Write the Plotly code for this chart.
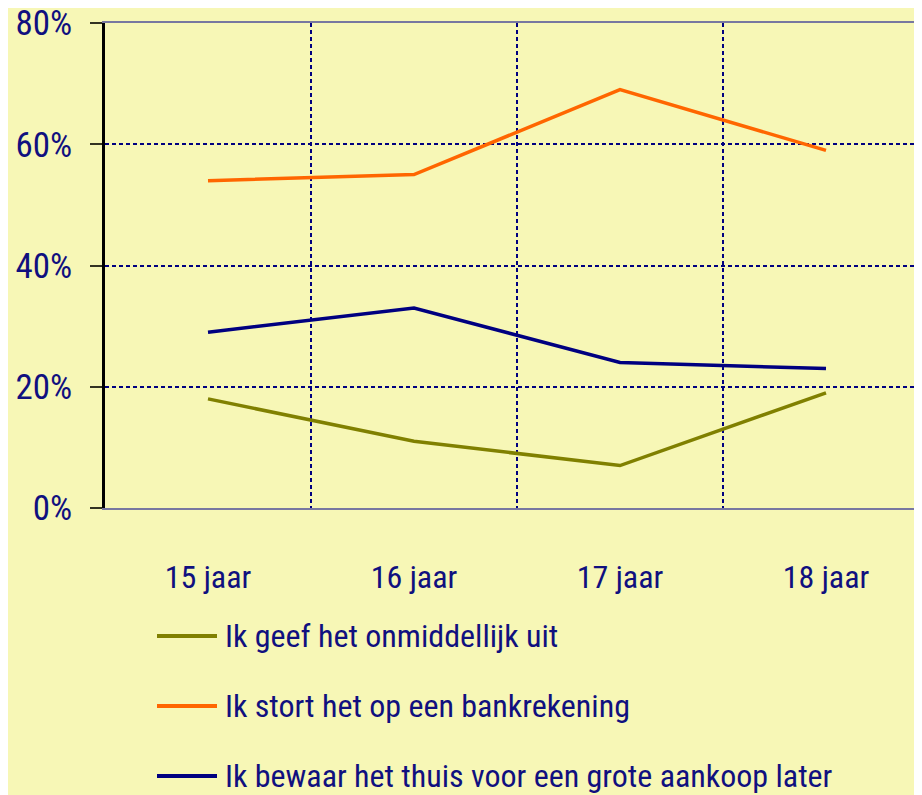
import plotly.graph_objects as go

categories = ["15 jaar", "16 jaar", "17 jaar", "18 jaar"]
series_names = [
    "Ik geef het onmiddellijk uit",
    "Ik stort het op een bankrekening",
    "Ik bewaar het thuis voor een grote aankoop later",
]
geef_uit = [18, 11, 7, 19]
bankrekening = [54, 55, 69, 59]
thuis = [29, 33, 24, 23]
y_ticks = [0, 20, 40, 60, 80]
y_ticktext = ["0%", "20%", "40%", "60%", "80%"]

colors = ["#808000", "#FF6600", "#000080"]
values = [geef_uit, bankrekening, thuis]

BG = "#F7F7B6"
TXT = "#10107F"
FONT = "Roboto Condensed, DejaVu Sans"
FS = 32
FW = 400

def narrow(s):
    return '<span style="font-stretch:condensed">' + s + '</span>'

xs = list(range(len(categories)))
fig = go.Figure()
for name, vals, col in zip(series_names, values, colors):
    fig.add_trace(go.Scatter(x=xs, y=vals, mode="lines", name=name,
                             line=dict(color=col, width=3.5), showlegend=False))

# page has an 8px body margin; positions below are page pixels
OFF = 8
W, H = 922 - OFF, 795 - OFF
L, R, T = 105 - OFF, 0, 23 - OFF
B = H - (508 - OFF)
pw = W - L - R
ph = H - T - B
def px(x):
    return (x - OFF - L) / pw
def py(y):
    return (H - B - (y - OFF)) / ph

legend_y = [636, 706, 776]
for name, col, ly in zip(series_names, colors, legend_y):
    fig.add_shape(type="line", xref="paper", yref="paper",
                  x0=px(157), x1=px(217), y0=py(ly), y1=py(ly),
                  line=dict(color=col, width=4))
    fig.add_annotation(xref="paper", yref="paper", x=px(223), y=py(ly),
                       text=narrow(name), showarrow=False, xanchor="left", yanchor="middle",
                       font=dict(family=FONT, size=FS, color=TXT, weight=FW))

fig.update_layout(
    template="none",
    width=W, height=H,
    margin=dict(l=L, r=R, t=T, b=B, pad=0),
    paper_bgcolor=BG, plot_bgcolor=BG,
    font=dict(family=FONT, size=FS, color=TXT, weight=FW),
    showlegend=False,
)
fig.update_xaxes(
    automargin=False,
    range=[-0.5, -0.5 + pw / 206.0],
    tickvals=xs, ticktext=[narrow(c) for c in categories],
    tickfont=dict(family=FONT, size=FS, color=TXT, weight=FW),
    showgrid=False, zeroline=False,
    showline=True, linecolor="#7878A0", linewidth=1.5, mirror=True,
    ticks="", ticklabelstandoff=40, ticklabeloverflow="allow",
    minor=dict(tick0=0.5, dtick=1, showgrid=True, gridcolor="#000080",
               gridwidth=2, griddash="4px,3px", ticks=""),
)
fig.update_yaxes(
    automargin=False,
    range=[0, 80], tickvals=y_ticks, ticktext=[narrow(t) for t in y_ticktext],
    tickfont=dict(family=FONT, size=35, color=TXT, weight=FW),
    showgrid=True, gridcolor="#000080", gridwidth=2, griddash="4px,3px",
    zeroline=False,
    showline=True, linecolor="#000000", linewidth=2.5,
    ticks="outside", ticklen=12, tickwidth=2, tickcolor="#333322",
    ticklabelstandoff=11, ticklabeloverflow="allow",
)
fig.write_html("out.html")
